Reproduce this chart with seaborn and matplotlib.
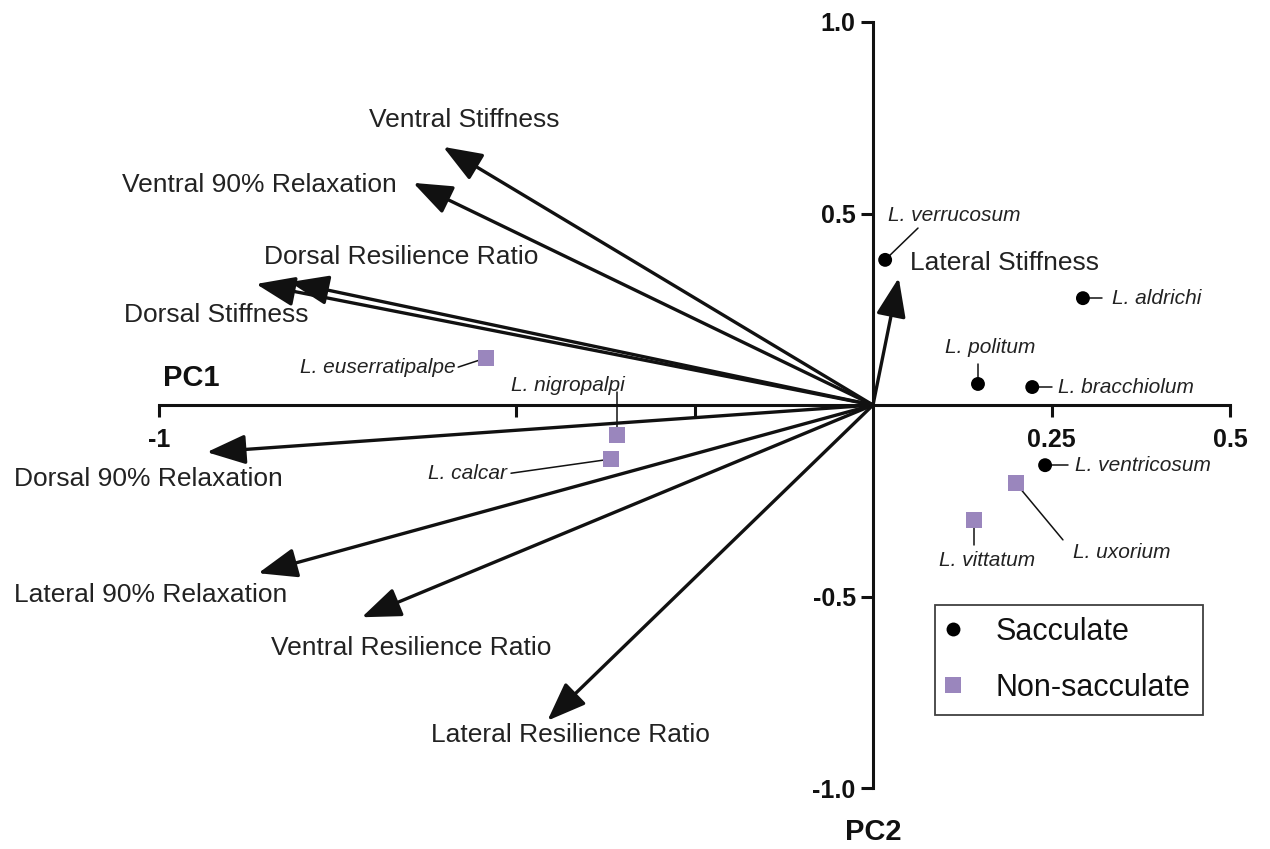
import matplotlib
matplotlib.use("Agg")
import matplotlib.pyplot as plt
import seaborn as sns
import pandas as pd

# Loadings of the mechanical variables on PC1 / PC2
variables = ["Ventral Stiffness", "Ventral 90% Relaxation", "Dorsal Resilience Ratio",
             "Dorsal Stiffness", "Dorsal 90% Relaxation", "Lateral 90% Relaxation",
             "Ventral Resilience Ratio", "Lateral Resilience Ratio", "Lateral Stiffness"]
load_pc1 = [-0.602, -0.644, -0.817, -0.864, -0.933, -0.861, -0.716, -0.456, 0.036]
load_pc2 = [0.674, 0.580, 0.321, 0.316, -0.123, -0.439, -0.554, -0.824, 0.332]

# Species scores
species = ["L. verrucosum", "L. aldrichi", "L. politum", "L. bracchiolum", "L. ventricosum",
           "L. uxorium", "L. vittatum", "L. euserratipalpe", "L. nigropalpi", "L. calcar"]
score_pc1 = [0.017, 0.294, 0.147, 0.223, 0.241, 0.200, 0.141, -0.542, -0.359, -0.367]
score_pc2 = [0.379, 0.279, 0.055, 0.047, -0.157, -0.204, -0.300, 0.123, -0.078, -0.141]
group = ["Sacculate"] * 5 + ["Non-sacculate"] * 5

# Layout of the variable labels: (x, y, ha)
var_label_pos = [(-0.573, 0.744, "center"), (-1.052, 0.574, "left"), (-0.853, 0.386, "left"),
                 (-1.049, 0.235, "left"), (-1.203, -0.193, "left"), (-1.203, -0.496, "left"),
                 (-0.843, -0.634, "left"), (-0.619, -0.862, "left"), (0.052, 0.371, "left")]

# Layout of the species labels: text (x, y, ha) and leader line end
sp_label_pos = [(0.021, 0.496, "left"), (0.335, 0.279, "left"), (0.164, 0.149, "center"),
                (0.259, 0.047, "left"), (0.283, -0.159, "left"), (0.280, -0.386, "left"),
                (0.160, -0.405, "center"), (-0.585, 0.097, "right"), (-0.427, 0.052, "center"),
                (-0.513, -0.180, "right")]
leader_end = [(0.063, 0.462), (0.321, 0.279), (0.147, 0.107), (0.251, 0.047),
              (0.273, -0.157), (0.266, -0.352), (0.141, -0.366), (-0.581, 0.099),
              (-0.359, 0.034), (-0.507, -0.178)]

sns.set_theme(style="white")
plt.rcParams["font.family"] = ["Liberation Sans", "DejaVu Sans"]

ink = "#111111"
purple = "#9a86bd"

fig = plt.figure(figsize=(12.7, 8.49), dpi=100)
ax = fig.add_axes([0, 0, 1, 1])
ax.set_xlim(-1.2227, 0.556)
ax.set_ylim(-1.159, 1.0574)
ax.set_facecolor("white")

# Axes crossing at the origin
for side in ["top", "right"]:
    ax.spines[side].set_visible(False)
ax.spines["left"].set_position(("data", 0))
ax.spines["bottom"].set_position(("data", 0))
ax.spines["left"].set_bounds(-1, 1)
ax.spines["bottom"].set_bounds(-1, 0.5)
for side in ["left", "bottom"]:
    ax.spines[side].set_linewidth(2.2)
    ax.spines[side].set_color(ink)
    ax.spines[side].set_zorder(1)

ax.set_xticks([-1, -0.5, -0.25, 0.25, 0.5])
ax.set_xticklabels(["-1", "", "", "0.25", "0.5"])
ax.set_yticks([-1, -0.5, 0.5, 1])
ax.set_yticklabels(["-1.0", "-0.5", "0.5", "1.0"])
ax.tick_params(axis="x", direction="out", length=8.5, width=2.2, color=ink, pad=8,
               labelsize=18, bottom=True)
ax.tick_params(axis="y", direction="out", length=8.5, width=2.2, color=ink, pad=4,
               labelsize=18, left=True)
for lab in ax.get_xticklabels() + ax.get_yticklabels():
    lab.set_fontweight("bold")
    lab.set_color(ink)
ax.grid(False)

ax.text(-0.995, 0.071, "PC1", fontsize=21, fontweight="bold", color=ink, ha="left", va="center")
ax.text(0.0, -1.114, "PC2", fontsize=21, fontweight="bold", color=ink, ha="center", va="center")

# Loading vectors
for name, lx, ly, (tx, ty, ha) in zip(variables, load_pc1, load_pc2, var_label_pos):
    ax.annotate("", xy=(lx, ly), xytext=(0, 0),
                arrowprops=dict(arrowstyle="-|>,head_length=1.2,head_width=0.46",
                                mutation_scale=20, lw=2.4, color=ink,
                                shrinkA=0, shrinkB=0), zorder=2)
    ax.text(tx, ty, name, fontsize=19, color="#222222", ha=ha, va="center")

# Leader lines and species names
for name, sx, sy, (tx, ty, ha), (ex, ey) in zip(species, score_pc1, score_pc2,
                                                 sp_label_pos, leader_end):
    ax.plot([sx, ex], [sy, ey], color=ink, lw=1.1, zorder=3)
    ax.text(tx, ty, name, fontsize=15, fontstyle="italic", color="#222222",
            ha=ha, va="center")

df = pd.DataFrame({"PC1": score_pc1, "PC2": score_pc2, "group": group})
sns.scatterplot(data=df, x="PC1", y="PC2", hue="group", style="group", size="group",
                hue_order=["Sacculate", "Non-sacculate"],
                style_order=["Sacculate", "Non-sacculate"],
                size_order=["Sacculate", "Non-sacculate"],
                palette={"Sacculate": "black", "Non-sacculate": purple},
                markers={"Sacculate": "o", "Non-sacculate": "s"},
                sizes={"Sacculate": 100, "Non-sacculate": 130},
                linewidth=0, ax=ax, zorder=4)
ax.set_xlabel("")
ax.set_ylabel("")

sns.move_legend(ax, "upper left", bbox_to_anchor=(0.736, 0.2875),
                bbox_transform=fig.transFigure, title=None, frameon=True,
                fancybox=False, fontsize=22, handlelength=0.4, handletextpad=1.2,
                labelspacing=0.85, borderpad=0.4, borderaxespad=0.0, markerscale=1.0)
leg = ax.get_legend()
leg.get_frame().set_edgecolor(ink)
leg.get_frame().set_linewidth(1.3)
for t in leg.get_texts():
    t.set_color(ink)

fig.savefig("out.png", dpi=100, facecolor="white")
